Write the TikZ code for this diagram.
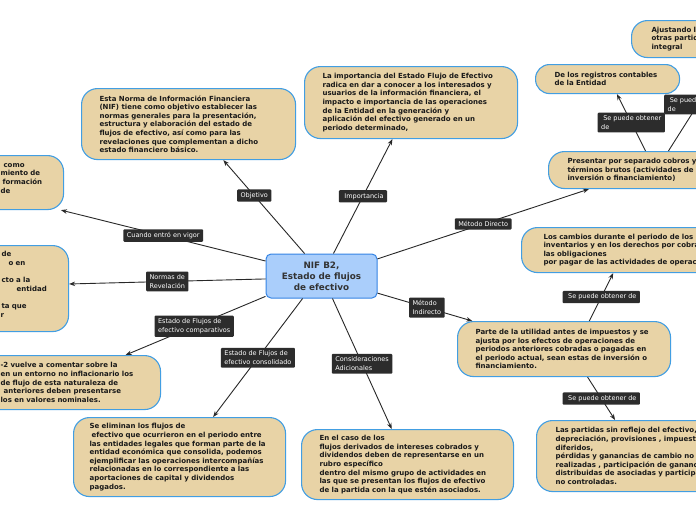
\documentclass[tikz,border=0pt]{standalone}
\usepackage{fontspec}
\setmainfont{DejaVu Sans}
\usepackage{tikz}
\usetikzlibrary{arrows.meta}
\definecolor{ideacolor}{RGB}{232, 211, 166}
\definecolor{ideaborder}{RGB}{66, 158, 226}
\definecolor{topiccolor}{RGB}{170, 206, 251}
\definecolor{topicborder}{RGB}{52, 132, 228}
\definecolor{tagcolor}{RGB}{44, 44, 44}
\definecolor{linkcolor}{RGB}{40, 40, 40}

\begin{document}
\begin{tikzpicture}[x=1pt, y=-1pt,
    idea/.style={draw=ideaborder, line width=1.1pt, fill=ideacolor, rounded corners=16pt, anchor=north west, inner xsep=18pt, inner ysep=0pt, align=left, text=black!90, font=\fontsize{7}{8.6}\selectfont\bfseries},
    topic/.style={draw=topicborder, line width=1pt, fill=topiccolor, rounded corners=5pt, align=center, text=black!80, font=\fontsize{8.8}{10.8}\selectfont\bfseries},
    tag/.style={fill=tagcolor, text=white, rounded corners=1pt, inner xsep=3.5pt, inner ysep=3pt, align=left, font=\fontsize{6.5}{8.8}\selectfont},
    link/.style={draw=linkcolor, line width=0.9pt},
    linkarrow/.style={link, -{Stealth[length=6pt, width=4.5pt]}}]

        \useasboundingbox (0,0) rectangle (696,520);
        \clip (0,0) rectangle (696,520);
        \fill[white] (0,0) rectangle (696,520);

        % Central topic
        \node[topic, minimum width=111pt, minimum height=44pt] (nif) at (321.5,276) {NIF B2,\\Estado de flujos\\de efectivo};

        % Ideas around the topic
        \node[idea, minimum width=214pt, minimum height=71pt, text width=178pt] (objetivo) at (81,88) {Esta Norma de Información Financiera\\(NIF) tiene como objetivo establecer las\\normas generales para la presentación,\\estructura y elaboración del estado de\\flujos de efectivo, así como para las\\revelaciones que complementan a dicho\\estado financiero básico.};

        \node[idea, minimum width=213pt, minimum height=72pt, text width=177pt] (importancia) at (304,66) {La importancia del Estado Flujo de Efectivo\\radica en dar a conocer a los interesados y\\usuarios de la información financiera, el\\impacto e importancia de las operaciones\\de la Entidad en la generación y\\aplicación del efectivo generado en un\\periodo determinado,};

        \node[idea, minimum width=81pt, minimum height=54pt, text width=45pt] (vigor) at (-18,155) {\hspace*{3pt}como\\miento de\\\hspace*{2pt}formación\\de\\\mbox{}};

        \node[idea, minimum width=86pt, minimum height=86pt, text width=50pt] (revelacion) at (-18,245) {\hspace*{1pt}de\\\hspace*{8pt}o en\\\mbox{}\\\hspace*{1pt}cto a la\\\hspace*{16pt}entidad\\\mbox{}\\\hspace*{1pt}ta que\\r\\\mbox{}};

        \node[idea, minimum width=178pt, minimum height=54pt, text width=142pt] (comparativo) at (-18,355) {-2 vuelve a comentar sobre la\\en un entorno no inflacionario los\\de flujo de esta naturaleza de\\\hspace*{3pt}anteriores deben presentarse\\los en valores nominales.};

        \node[idea, minimum width=212pt, minimum height=79pt, text width=180pt, inner xsep=16pt] (consolidado) at (73,417) {Se eliminan los flujos de\\\hspace*{2pt}efectivo que ocurrieron en el periodo entre\\las entidades legales que forman parte de la\\entidad económica que consolida, podemos\\ejemplificar las operaciones intercompañías\\relacionadas en lo correspondiente a las\\aportaciones de capital y dividendos\\pagados.};

        \node[idea, minimum width=212pt, minimum height=70pt, text width=176pt] (adicionales) at (301,429) {En el caso de los\\flujos derivados de intereses cobrados y\\dividendos deben de representarse en un\\rubro específico\\dentro del mismo grupo de actividades en\\las que se presentan los flujos de efectivo\\de la partida con la que estén asociados.};

        \node[idea, minimum width=260pt, minimum height=37pt, text width=222pt, inner xsep=19pt] (directo) at (548,151) {Presentar por separado cobros y\\términos brutos (actividades de\\inversión o financiamiento)};

        \node[idea, minimum width=144pt, minimum height=29pt, text width=106pt, inner xsep=19pt, rounded corners=14pt] (registros) at (535,64) {De los registros contables\\de la Entidad};

        \node[idea, minimum width=260pt, minimum height=37pt, text width=220pt, inner xsep=20pt] (ajustando) at (631,20) {Ajustando l\\otras partid\\integral};

        \node[idea, minimum width=213pt, minimum height=55pt, text width=177pt] (indirecto) at (457,321) {Parte de la utilidad antes de impuestos y se\\ajusta por los efectos de operaciones de\\periodos anteriores cobradas o pagadas en\\el periodo actual, sean estas de inversión o\\financiamiento.};

        \node[idea, minimum width=260pt, minimum height=45pt, text width=216pt, inner xsep=22pt] (cambios) at (521,227) {Los cambios durante el periodo de los\\inventarios y en los derechos por cobra\\las obligaciones\\por pagar de las actividades de operac};

        \node[idea, minimum width=260pt, minimum height=71pt, text width=222pt, inner xsep=19pt] (partidas) at (536,420) {Las partidas sin reflejo del efectivo,\\depreciación, provisiones , impuesto\\diferidos,\\pérdidas y ganancias de cambio no\\realizadas , participación de gananc\\distribuidas de asociadas y participa\\no controladas.};

        % Links from the topic
        \draw[linkarrow] (nif.127) -- node[tag, pos=0.62] (tobjetivo) {Objetivo} (objetivo.-46);
        \draw[linkarrow] (nif.62.4) -- node[tag] (timportancia) {\ Importancia} (importancia.-117.2);
        \draw[linkarrow] (nif.165.8) -- node[tag] (tvigor) {Cuando entró en vigor} (vigor.-36);
        \draw[linkarrow] (nif.183) -- node[tag] (trevelacion) {Normas de\\Revelación} (revelacion.6);
        \draw[linkarrow] (nif.200.7) -- node[tag, pos=0.51] (tcomparativo) {Estado de Flujos de\\efectivo comparativos} (comparativo.27);
        \draw[linkarrow] (nif.230) -- node[tag] (tconsolidado) {Estado de Flujos de\\efectivo consolidado} (consolidado.50.1);
        \draw[linkarrow] (nif.-64.5) -- node[tag] (tadicionales) {Consideraciones\\Adicionales} (adicionales.114.6);
        \draw[linkarrow] (nif.17) -- node[tag] (tdirecto) {Método Directo} (directo.192.9);
        \draw[linkarrow] (nif.-17) -- node[tag, pos=0.52] (tindirecto) {Método\\Indirecto} (indirecto.163.9);

        % Links between ideas
        \draw[linkarrow] (directo.150) -- node[tag] (tregistros) {\ Se puede obtener\\de} (registros.-58.2);
        \draw[linkarrow] (directo.118.4) -- node[tag] (tajustando) {\ Se puede obtener\\de} (ajustando.209.3);
        \draw[linkarrow] (indirecto.48.3) -- node[tag] (tcambios) {\ Se puede obtener de} (cambios.211.3);
        \draw[linkarrow] (indirecto.-50.7) -- node[tag] (tpartidas) {\ Se puede obtener de} (partidas.145.2);

    \end{tikzpicture}
\end{document}
